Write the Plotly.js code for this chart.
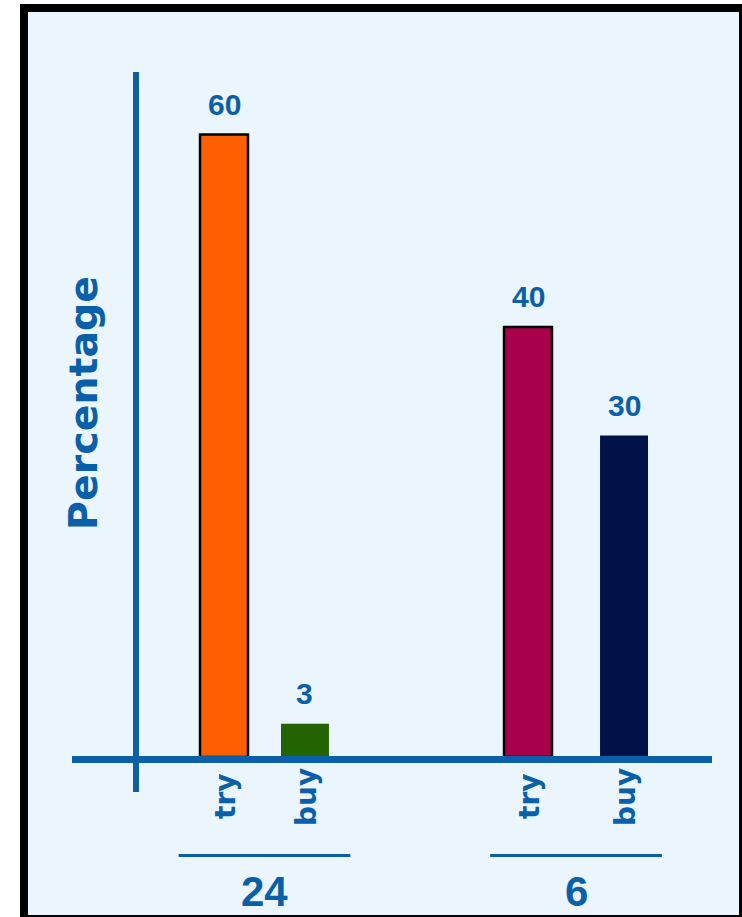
<!DOCTYPE html>
<html>
<head>
<meta charset="utf-8">
<script src="https://cdn.plot.ly/plotly-3.0.1.min.js"></script>
<style>
  html, body { margin: 0; padding: 0; background: #ffffff; overflow: hidden; width: 742px; height: 917px; }
  #frame { position: absolute; left: 20px; top: 4px; width: 711px; height: 903px; border: 8px solid #000; background: #EBF5FE; }
  #chart { width: 711px; height: 903px; }
</style>
</head>
<body>
<div id="frame"><div id="chart"></div></div>
<script>
// ---- data ----
const groups = ["24", "6"];
const actions = ["try", "buy"];
const tryValues = [57.9, 40];     // bar heights
const buyValues = [3.1, 29.9];
const tryLabels = ["60", "40"];   // printed value labels
const buyLabels = ["3", "30"];

// ---- styling / layout constants ----
const BLUE = "#0A60A8";
const barColors = [["#FF5F00", "#246400"], ["#A8004A", "#001247"]];
const outline = [[2.5, 0], [2.5, 0]];
const GROUP_START = [0, 3.435];     // group start positions (axis units)
const MEMBER_GAP = [0.915, 1.085];  // spacing between bars inside each group
const BAR_W = 0.542;

const xs = [], ys = [], cols = [], lws = [], txt = [], names = [];
groups.forEach((g, gi) => {
  const vals = [tryValues[gi], buyValues[gi]];
  const labs = [tryLabels[gi], buyLabels[gi]];
  actions.forEach((a, ai) => {
    xs.push(GROUP_START[gi] + ai * MEMBER_GAP[gi]);
    ys.push(vals[ai]);
    cols.push(barColors[gi][ai]);
    lws.push(outline[gi][ai]);
    txt.push(labs[ai]);
    names.push(a);
  });
});

const annotations = [];
xs.forEach((x, i) => {
  // value labels
  annotations.push({
    x: x, y: ys[i], xref: 'x', yref: 'y', text: txt[i], showarrow: false,
    yanchor: 'bottom', xanchor: 'center', yshift: 12,
    font: { family: 'Liberation Sans, Arial, sans-serif', size: 30, color: BLUE, weight: 'bold' }
  });
  // category labels (rotated)
  annotations.push({
    x: x, y: -0.0584, xref: 'x', yref: 'paper', text: names[i], showarrow: false,
    textangle: -90, xanchor: 'center', yanchor: 'middle', xshift: 1,
    font: { family: 'DejaVu Sans, sans-serif', size: 28, color: BLUE, weight: 'bold' }
  });
});

const shapes = [];
groups.forEach((g, gi) => {
  const c = GROUP_START[gi] + MEMBER_GAP[gi] / 2;
  annotations.push({
    x: c, y: -0.197, xref: 'x', yref: 'paper', text: g, showarrow: false,
    xanchor: 'center', yanchor: 'middle',
    font: { family: 'Liberation Sans, Arial, sans-serif', size: 42, color: BLUE, weight: 'bold' }
  });
  shapes.push({
    type: 'line', xref: 'x', yref: 'paper', x0: c - 0.97, x1: c + 0.97, y0: -0.1438, y1: -0.1438,
    line: { color: BLUE, width: 3 }
  });
});

// y title
annotations.push({
  x: 0.0172, y: 0.5168, xref: 'paper', yref: 'paper', text: 'Percentage', showarrow: false,
  textangle: -90, xanchor: 'center', yanchor: 'middle',
  font: { family: 'DejaVu Sans, sans-serif', size: 39.5, color: BLUE, weight: 'bold' }
});

// axis lines
shapes.push({ type: 'line', xref: 'paper', yref: 'paper', x0: 0.1, x1: 0.1, y0: 1, y1: -0.0511,
  line: { color: BLUE, width: 6 }, layer: 'above' });
shapes.push({ type: 'line', xref: 'paper', yref: 'paper', x0: 0, x1: 1, y0: -0.00365, y1: -0.00365,
  line: { color: BLUE, width: 7 }, layer: 'above' });

const trace = {
  type: 'bar', x: xs, y: ys, width: BAR_W,
  marker: { color: cols, line: { color: '#000000', width: lws } },
  hoverinfo: 'skip', showlegend: false
};

const layout = {
  width: 711, height: 903,
  margin: { l: 44, r: 27, t: 60, b: 158, pad: 0 },
  paper_bgcolor: '#EBF5FE', plot_bgcolor: '#EBF5FE',
  xaxis: { range: [-1.7175, 5.514], showgrid: false, zeroline: false, showticklabels: false, showline: false, ticks: '', fixedrange: true },
  yaxis: { range: [0, 63.72], showgrid: false, zeroline: false, showticklabels: false, showline: false, ticks: '', fixedrange: true },
  annotations: annotations,
  shapes: shapes
};

Plotly.newPlot('chart', [trace], layout, { staticPlot: true, displayModeBar: false });
</script>
</body>
</html>
